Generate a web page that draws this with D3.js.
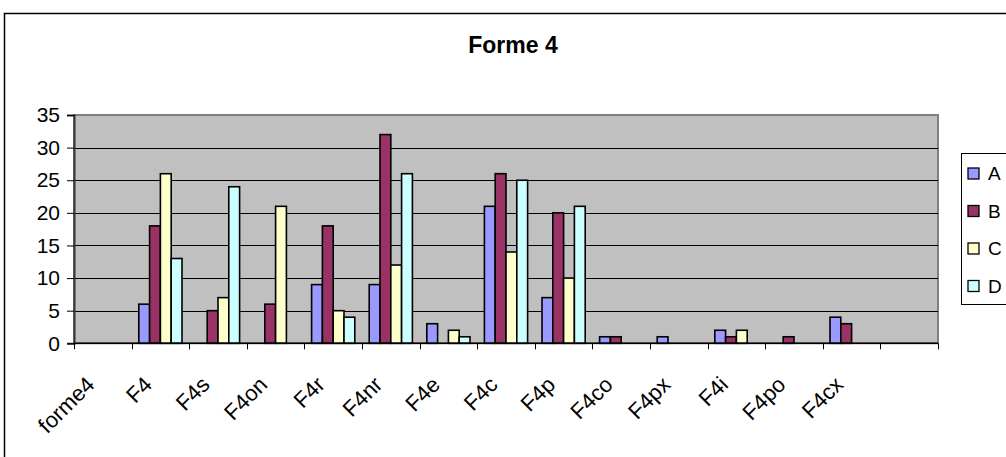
<!DOCTYPE html>
<html>
<head>
<meta charset="utf-8">
<script src="https://cdn.jsdelivr.net/npm/d3@7"></script>
<style>
  html, body { margin: 0; padding: 0; background: #fff; }
  svg { display: block; font-family: "Liberation Sans", Arial, sans-serif; }
</style>
</head>
<body>
<svg id="chart" width="1006" height="457"></svg>
<script>
// Categories along the x axis (the last slot is left blank)
const categories = ["forme4", "F4", "F4s", "F4on", "F4r", "F4nr", "F4e", "F4c", "F4p", "F4co", "F4px", "F4i", "F4po", "F4cx", ""];
const seriesNames = ["A", "B", "C", "D"];
const seriesA = [0, 6, 0, 0, 9, 9, 3, 21, 7, 1, 1, 2, 0, 4, 0];
const seriesB = [0, 18, 5, 6, 18, 32, 0, 26, 20, 1, 0, 1, 1, 3, 0];
const seriesC = [0, 26, 7, 21, 5, 12, 2, 14, 10, 0, 0, 2, 0, 0, 0];
const seriesD = [0, 13, 24, 0, 4, 26, 1, 25, 21, 0, 0, 0, 0, 0, 0];
const yTicks = [0, 5, 10, 15, 20, 25, 30, 35];
const seriesColors = ["#9999FF", "#993366", "#FFFFCC", "#CCFFFF"];

const series = [seriesA, seriesB, seriesC, seriesD];

const svg = d3.select("#chart");

// Outer chart frame
svg.append("rect")
  .attr("x", 4.5).attr("y", 13.5)
  .attr("width", 1010).attr("height", 460)
  .attr("fill", "#fff").attr("stroke", "#000").attr("stroke-width", 1.5);

// Title
svg.append("text")
  .attr("x", 513).attr("y", 52.5)
  .attr("text-anchor", "middle")
  .attr("font-size", 23).attr("font-weight", "bold")
  .text("Forme 4");

const plot = { left: 74, right: 938, top: 115, bottom: 343.3 };

const x0 = d3.scaleBand().domain(categories)
  .range([plot.left, plot.right]).paddingInner(0).paddingOuter(0);
const x1 = d3.scaleBand().domain(seriesNames)
  .range([0, x0.bandwidth()]).paddingInner(0).paddingOuter(0.667);
const y = d3.scaleLinear().domain([0, 35]).range([plot.bottom, plot.top]);

// Plot background
svg.append("rect")
  .attr("x", plot.left).attr("y", plot.top)
  .attr("width", plot.right - plot.left).attr("height", plot.bottom - plot.top)
  .attr("fill", "#c0c0c0").attr("stroke", "#808080").attr("stroke-width", 2);

// Horizontal gridlines
svg.append("g").selectAll("line")
  .data(yTicks.filter(t => t > 0 && t < 35))
  .join("line")
  .attr("x1", plot.left).attr("x2", plot.right)
  .attr("y1", d => Math.round(y(d)) + 0.5).attr("y2", d => Math.round(y(d)) + 0.5)
  .attr("stroke", "#000").attr("stroke-width", 1);

// Bars
const groups = svg.append("g").selectAll("g")
  .data(categories.map((c, i) => ({ c, vals: series.map((s, k) => ({ name: seriesNames[k], v: s[i], k })) })))
  .join("g")
  .attr("transform", d => `translate(${x0(d.c)},0)`);

groups.selectAll("rect")
  .data(d => d.vals.filter(e => e.v > 0))
  .join("rect")
  .attr("x", d => x1(d.name))
  .attr("y", d => y(d.v))
  .attr("width", x1.bandwidth())
  .attr("height", d => y(0) - y(d.v))
  .attr("fill", d => seriesColors[d.k])
  .attr("stroke", "#000").attr("stroke-width", 1.6);

// Y axis
const yAxis = svg.append("g")
  .attr("transform", `translate(${plot.left},0)`)
  .call(d3.axisLeft(y).tickValues(yTicks).tickSize(7).tickPadding(7).tickFormat(d3.format("d")));
yAxis.select(".domain").attr("stroke", "#333").attr("stroke-width", 2);
yAxis.selectAll(".tick line").attr("stroke", "#000");
yAxis.selectAll(".tick text")
  .attr("font-size", 21).attr("font-family", "Liberation Sans, Arial, sans-serif")
  .attr("fill", "#000");

// X axis with ticks at category boundaries
const xAxis = svg.append("g")
  .attr("transform", `translate(0,${plot.bottom})`);
xAxis.append("line")
  .attr("x1", plot.left).attr("x2", plot.right)
  .attr("y1", 0).attr("y2", 0)
  .attr("stroke", "#000").attr("stroke-width", 1.5);
const boundaries = categories.map(c => x0(c)).concat([x0.range()[1]]);
xAxis.selectAll("line.tk")
  .data(boundaries)
  .join("line").attr("class", "tk")
  .attr("x1", d => Math.round(d) + 0.5).attr("x2", d => Math.round(d) + 0.5)
  .attr("y1", 0).attr("y2", 6)
  .attr("stroke", "#000");

// Rotated category labels
svg.append("g").selectAll("text")
  .data(categories.filter(c => c !== ""))
  .join("text")
  .attr("transform", d => `translate(${x0(d) + x0.bandwidth() / 2 - 7},386) rotate(-45)`)
  .attr("text-anchor", "end")
  .attr("font-size", 22)
  .text(d => d);

// Legend
const legend = svg.append("g");
legend.append("rect")
  .attr("x", 961.5).attr("y", 153.5)
  .attr("width", 60).attr("height", 151)
  .attr("fill", "#fff").attr("stroke", "#000").attr("stroke-width", 1);
const ly = d3.scalePoint().domain(seriesNames).range([173.5, 286]);
const items = legend.selectAll("g.item")
  .data(seriesNames)
  .join("g").attr("class", "item")
  .attr("transform", d => `translate(0,${ly(d)})`);
items.append("rect")
  .attr("x", 968).attr("y", -5.5)
  .attr("width", 11).attr("height", 11)
  .attr("fill", (d, i) => seriesColors[i])
  .attr("stroke", "#000").attr("stroke-width", 1.3);
items.append("text")
  .attr("x", 988).attr("y", 6.5)
  .attr("font-size", 19)
  .text(d => d);
</script>
</body>
</html>
